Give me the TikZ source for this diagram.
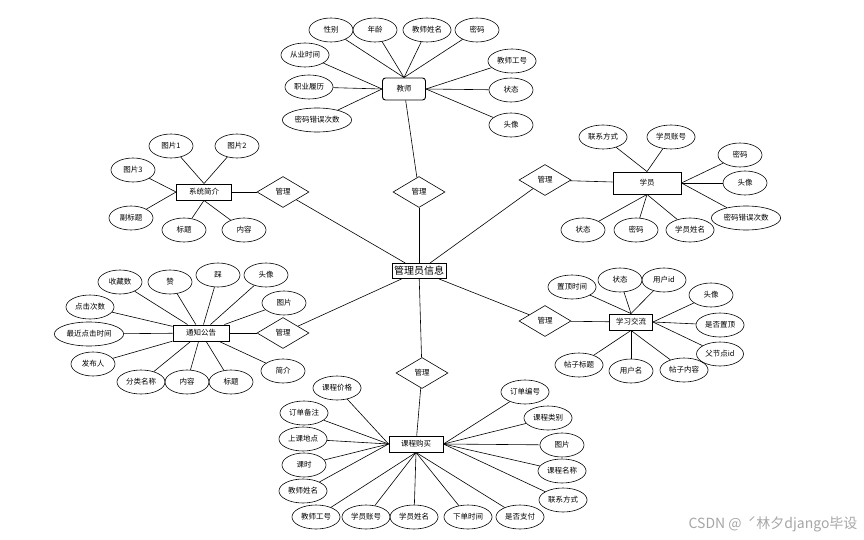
\documentclass[tikz,border=0pt]{standalone}
\usepackage{fontspec}
\setmainfont{Noto Sans CJK SC}
\usetikzlibrary{shapes.geometric}

\begin{document}
\begin{tikzpicture}[x=1pt,y=-1pt,
  attr/.style={ellipse,draw,line width=0.6pt,minimum width=44pt,minimum height=24pt,inner sep=2pt,font=\fontsize{7.5}{9}\selectfont},
  ent/.style={rectangle,draw,line width=0.9pt,minimum height=16pt,inner sep=2pt,font=\fontsize{7.5}{9}\selectfont},
  rel/.style={diamond,draw,line width=0.6pt,minimum width=52pt,minimum height=31pt,inner sep=0pt,font=\fontsize{7.5}{9}\selectfont},
  link/.style={line width=0.6pt}]
\useasboundingbox (0,0) rectangle (864,540);

% admin in the middle
\node[ent,minimum width=54pt,minimum height=15pt,font=\fontsize{10}{12}\selectfont] (gly) at (419,271) {管理员信息};

% relations
\node[rel] (gl1) at (419,192) {管理};
\node[rel] (gl2) at (283,192) {管理};
\node[rel] (gl3) at (545,180) {管理};
\node[rel] (gl4) at (283,333) {管理};
\node[rel] (gl5) at (545,321) {管理};
\node[rel] (gl6) at (422,373) {管理};

% teacher
\node[ent,rounded corners=3pt,minimum width=43pt,minimum height=22pt] (js) at (404,89) {教师};
\node[attr] (js1) at (331,30) {性别};
\node[attr] (js2) at (375,30) {年龄};
\node[attr] (js3) at (427,30) {教师姓名};
\node[attr] (js4) at (477,30) {密码};
\node[attr] (js5) at (305,55) {从业时间};
\node[attr] (js6) at (309,87) {职业履历};
\node[attr] (js7) at (317,120) {密码错误次数};
\node[attr] (js8) at (512,61) {教师工号};
\node[attr] (js9) at (511,90) {状态};
\node[attr] (js10) at (511,125) {头像};

\foreach \a in {js1,js2,js3,js4} \draw[link] (\a) -- (js.north);
\foreach \a in {js5,js6,js7} \draw[link] (\a) -- (js.west);
\foreach \a in {js8,js9,js10} \draw[link] (\a) -- (js.east);

% system intro
\node[ent,minimum width=55pt] (xt) at (204,192) {系统简介};
\node[attr] (xt1) at (171,146) {图片1};
\node[attr] (xt2) at (237,146) {图片2};
\node[attr] (xt3) at (133,170) {图片3};
\node[attr] (xt4) at (131,218) {副标题};
\node[attr] (xt5) at (184,230) {标题};
\node[attr] (xt6) at (244,230) {内容};

\foreach \a in {xt1,xt2} \draw[link] (\a) -- (xt.north);
\foreach \a in {xt3,xt4} \draw[link] (\a) -- (xt.west);
\foreach \a in {xt5,xt6} \draw[link] (\a) -- (xt.south);

% student
\node[ent,minimum width=68pt,minimum height=22pt] (xy) at (647,183) {学员};
\node[attr] (xy1) at (603,137) {联系方式};
\node[attr] (xy2) at (671,137) {学员账号};
\node[attr] (xy3) at (740,155) {密码};
\node[attr] (xy4) at (745,183) {头像};
\node[attr] (xy5) at (746,218) {密码错误次数};
\node[attr] (xy6) at (583,230) {状态};
\node[attr] (xy7) at (636,230) {密码};
\node[attr] (xy8) at (690,230) {学员姓名};

\foreach \a in {xy1,xy2} \draw[link] (\a) -- (xy.north);
\foreach \a in {xy3,xy4,xy5} \draw[link] (\a) -- (xy.east);
\foreach \a in {xy6,xy7,xy8} \draw[link] (\a) -- (xy.south);

% notices
\node[ent,minimum width=56pt] (tz) at (201,333) {通知公告};
\node[attr] (tz1) at (120,282) {收藏数};
\node[attr] (tz2) at (170,282) {赞};
\node[attr] (tz3) at (218,275) {踩};
\node[attr] (tz4) at (266,275) {头像};
\node[attr] (tz5) at (284,303) {图片};
\node[attr] (tz6) at (90,307) {点击次数};
\node[attr] (tz7) at (89,334) {最近点击时间};
\node[attr] (tz8) at (93,364) {发布人};
\node[attr] (tz9) at (141,382) {分类名称};
\node[attr] (tz10) at (187,382) {内容};
\node[attr] (tz11) at (231,382) {标题};
\node[attr] (tz12) at (283,371) {简介};

\foreach \a in {tz1,tz2,tz3,tz4,tz5,tz6,tz7,tz8,tz9,tz10,tz11,tz12} \draw[link] (\a) -- (tz);

% forum
\node[ent,minimum width=43pt] (xx) at (631,322) {学习交流};
\node[attr] (xx1) at (572,287) {置顶时间};
\node[attr] (xx2) at (620,280) {状态};
\node[attr] (xx3) at (664,280) {用户id};
\node[attr] (xx4) at (711,295) {头像};
\node[attr] (xx5) at (720,325) {是否置顶};
\node[attr] (xx6) at (720,354) {父节点id};
\node[attr] (xx7) at (684,370) {帖子内容};
\node[attr] (xx8) at (631,371) {用户名};
\node[attr] (xx9) at (579,365) {帖子标题};

\foreach \a in {xx1,xx2,xx3} \draw[link] (\a) -- (xx.north);
\foreach \a in {xx4,xx5,xx6} \draw[link] (\a) -- (xx.east);
\foreach \a in {xx7,xx8,xx9} \draw[link] (\a) -- (xx.south);

% course orders
\node[ent,minimum width=54pt] (kc) at (416,444) {课程购买};
\node[attr] (kc1) at (337,388) {课程价格};
\node[attr] (kc2) at (304,413) {订单备注};
\node[attr] (kc3) at (303,439) {上课地点};
\node[attr] (kc4) at (304,465) {课时};
\node[attr] (kc5) at (303,491) {教师姓名};
\node[attr] (kc6) at (316,517) {教师工号};
\node[attr] (kc7) at (366,517) {学员账号};
\node[attr] (kc8) at (414,517) {学员姓名};
\node[attr] (kc9) at (468,517) {下单时间};
\node[attr] (kc10) at (520,517) {是否支付};
\node[attr] (kc11) at (563,500) {联系方式};
\node[attr] (kc12) at (562,471) {课程名称};
\node[attr] (kc13) at (562,445) {图片};
\node[attr] (kc14) at (548,418) {课程类别};
\node[attr] (kc15) at (525,392) {订单编号};

\foreach \a in {kc1,kc2,kc3,kc4,kc5} \draw[link] (\a) -- (kc.west);
\foreach \a in {kc6,kc7,kc8,kc9,kc10} \draw[link] (\a) -- (kc.south);
\foreach \a in {kc11,kc12,kc13,kc14,kc15} \draw[link] (\a) -- (kc.east);

% relations to entities
\draw[link] (js) -- (gl1);
\draw[link] (gl1) -- (gly);
\draw[link] (xt) -- (gl2);
\draw[link] (gl2) -- (gly);
\draw[link] (gl3) -- (xy);
\draw[link] (gly) -- (gl3);
\draw[link] (tz) -- (gl4);
\draw[link] (gl4) -- (gly);
\draw[link] (gl5) -- (xx);
\draw[link] (gly) -- (gl5);
\draw[link] (gl6) -- (kc);
\draw[link] (gly) -- (gl6);

\node[anchor=east,text=black!35,font=\fontsize{14}{16}\selectfont] (wm) at (861,524) {CSDN @\ \ ˊ林夕django毕设};
\end{tikzpicture}
\end{document}
